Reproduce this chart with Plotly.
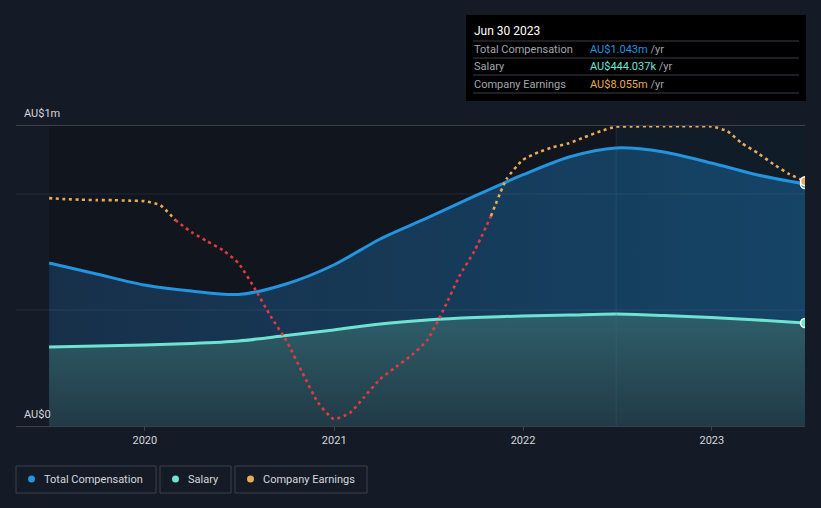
import plotly.graph_objects as go
import pandas as pd

# ---------------- data ----------------
quarter_dates = ["2019-06-30", "2019-09-30", "2019-12-31", "2020-03-31", "2020-06-30",
                 "2020-09-30", "2020-12-31", "2021-03-31", "2021-06-30", "2021-09-30",
                 "2021-12-31", "2022-03-31", "2022-06-30", "2022-09-30", "2022-12-31",
                 "2023-03-31", "2023-06-30"]
total_comp = [702.6, 655.2, 607.8, 581.9, 566.8, 612.1, 694.0, 806.0, 896.6, 991.4,
              1081.9, 1159.5, 1198.3, 1181.0, 1133.6, 1081.9, 1043.0]  # AU$k
salary = [340.5, 344.8, 349.1, 355.6, 366.4, 390.1, 413.8, 439.7, 456.9, 467.7,
          474.1, 478.4, 482.8, 476.3, 467.7, 456.9, 444.037]  # AU$k

month_dates = [d.strftime("%Y-%m-%d") for d in pd.date_range("2019-06-30", "2023-06-30", freq="ME")]
earnings = [4.25, 4.03, 3.91, 3.80, 3.80, 3.69, 3.58, 2.68, -0.67, -3.36,
            -5.37, -7.38, -10.29, -15.88, -22.15, -27.52, -34.67, -41.38, -45.19, -43.85,
            -40.27, -36.24, -33.56, -30.87, -27.52, -20.80, -13.20, -7.38, 0.22, 8.50,
            12.75, 14.54, 15.66, 16.55, 17.90, 19.24, 20.24, 20.30, 20.35, 20.36,
            20.36, 20.36, 20.30, 19.24, 16.55, 14.32, 11.86, 9.62, 8.055]  # AU$m

x_ticks = ["2020-01-01", "2021-01-01", "2022-01-01", "2023-01-01"]
x_tick_labels = ["2020", "2021", "2022", "2023"]
x_range = ["2019-04-27", "2023-06-30"]
y_range = [0, 1293]
grid_vals = [500, 1000]
highlight_start = "2022-06-30"

# ---------------- colours ----------------
BG = "#151b26"
PLOT_BG = "#10151e"
BLUE = "#2394df"
CYAN = "#6fe3d3"
ORANGE = "#e9ab55"
RED = "#e5393e"
TEXT = "#d4d7dc"
MUTED = "#a2a6ad"

fig = go.Figure()

# total compensation area
fig.add_trace(go.Scatter(
    x=quarter_dates, y=total_comp, mode="lines", line=dict(color=BLUE, width=3, shape="spline", smoothing=0.8),
    fill="tozeroy", fillgradient=dict(type="horizontal", colorscale=[[0, "#17304a"], [1, "#154466"]]),
    hoverinfo="skip", showlegend=False))
# salary area
fig.add_trace(go.Scatter(
    x=quarter_dates, y=salary, mode="lines", line=dict(color=CYAN, width=3, shape="spline", smoothing=0.8),
    fill="tozeroy", fillgradient=dict(type="vertical", colorscale=[[0, "#213a47"], [1, "#2e5f6a"]]),
    hoverinfo="skip", showlegend=False))

# earnings, split into positive / negative runs
neg = [i for i, v in enumerate(earnings) if v < 0]
s, e = neg[0], neg[-1] + 1
segments = [(0, s, ORANGE), (s, e, RED), (e, len(earnings) - 1, ORANGE)]
for a, b, col in segments:
    fig.add_trace(go.Scatter(
        x=month_dates[a:b + 1], y=earnings[a:b + 1], yaxis="y2", mode="lines",
        line=dict(color=col, width=2.6, dash="3px,3.6px", shape="spline", smoothing=0.5),
        hoverinfo="skip", showlegend=False))

# end markers
fig.add_trace(go.Scatter(x=[quarter_dates[-1]], y=[total_comp[-1]], mode="markers",
                         marker=dict(color=BLUE, size=9, line=dict(color="white", width=1.5)),
                         hoverinfo="skip", showlegend=False))
fig.add_trace(go.Scatter(x=[quarter_dates[-1]], y=[salary[-1]], mode="markers",
                         marker=dict(color=CYAN, size=9, line=dict(color="white", width=1.5)),
                         hoverinfo="skip", showlegend=False))
fig.add_trace(go.Scatter(x=[month_dates[-1]], y=[earnings[-1]], yaxis="y2", mode="markers",
                         marker=dict(color=ORANGE, size=9, line=dict(color="white", width=1.5)),
                         hoverinfo="skip", showlegend=False))

shapes = [
    dict(type="rect", xref="x", yref="paper", x0=quarter_dates[0], x1=quarter_dates[-1], y0=0, y1=1,
         fillcolor=PLOT_BG, line=dict(width=0), layer="below"),
    dict(type="rect", xref="x", yref="paper", x0=highlight_start, x1=quarter_dates[-1], y0=0, y1=1,
         fillcolor="#111c29", line=dict(width=0), layer="below"),
    dict(type="line", xref="x", yref="paper", x0=highlight_start, x1=highlight_start, y0=0, y1=1,
         line=dict(color="rgba(70,110,150,0.25)", width=1), layer="above"),
]
for g in grid_vals:
    shapes.append(dict(type="line", xref="paper", yref="y", x0=0, x1=1, y0=g, y1=g,
                       line=dict(color="rgba(160,170,185,0.13)", width=1), layer="above"))

annotations = [
    dict(text="AU$1m", xref="paper", yref="paper", x=0.008, y=1.04, xanchor="left", yanchor="middle",
         showarrow=False, font=dict(color=TEXT, size=11)),
    dict(text="AU$0", xref="paper", yref="paper", x=0.008, y=0.04, xanchor="left", yanchor="middle",
         showarrow=False, font=dict(color=TEXT, size=11)),
]

# tooltip box
def px_x(px):
    return (px - 16) / 789


def px_y(py):
    return (426 - py) / 300


shapes.append(dict(type="rect", xref="paper", yref="paper", x0=px_x(466), x1=px_x(806), y0=px_y(101), y1=px_y(15),
                   fillcolor="#000000", line=dict(width=0), layer="above"))
for sy in [41, 58, 75, 93]:
    shapes.append(dict(type="line", xref="paper", yref="paper", x0=px_x(473), x1=px_x(799), y0=px_y(sy), y1=px_y(sy),
                       line=dict(color="#3a3e45", width=1), layer="above"))
annotations.append(dict(text="Jun 30 2023", xref="paper", yref="paper", x=px_x(472), y=px_y(31),
                        xanchor="left", yanchor="middle", showarrow=False, font=dict(color="white", size=12)))
rows = [("Total Compensation", "AU$1.043m", BLUE, 49),
        ("Salary", "AU$444.037k", CYAN, 66),
        ("Company Earnings", "AU$8.055m", ORANGE, 84)]
for label, val, col, ry in rows:
    annotations.append(dict(text=label, xref="paper", yref="paper", x=px_x(472), y=px_y(ry),
                            xanchor="left", yanchor="middle", showarrow=False, font=dict(color=MUTED, size=11)))
    annotations.append(dict(text=f"<span style='color:{col}'>{val}</span> /yr", xref="paper", yref="paper",
                            x=px_x(588), y=px_y(ry), xanchor="left", yanchor="middle", showarrow=False,
                            font=dict(color=MUTED, size=11)))

# legend boxes
legend_items = [("Total Compensation", BLUE, 16, 156), ("Salary", CYAN, 160, 231), ("Company Earnings", ORANGE, 235, 367)]
for name, col, bx0, bx1 in legend_items:
    shapes.append(dict(type="rect", xref="paper", yref="paper", x0=px_x(bx0), x1=px_x(bx1), y0=px_y(493), y1=px_y(466),
                       fillcolor="rgba(0,0,0,0)", line=dict(color="#3c424b", width=1)))
    shapes.append(dict(type="circle", xref="paper", yref="paper", x0=px_x(bx0 + 12), x1=px_x(bx0 + 19),
                       y0=px_y(482.5), y1=px_y(475.5), fillcolor=col, line=dict(width=0)))
    annotations.append(dict(text=name, xref="paper", yref="paper", x=px_x(bx0 + 26), y=px_y(479.5),
                            xanchor="left", yanchor="middle", showarrow=False, font=dict(color=TEXT, size=11)))

fig.update_layout(
    width=821, height=508,
    margin=dict(l=16, r=16, t=126, b=82),
    paper_bgcolor=BG, plot_bgcolor=BG,
    font=dict(family="Roboto, Noto Sans, sans-serif", color=TEXT),
    xaxis=dict(type="date", range=x_range, tickvals=x_ticks, ticktext=x_tick_labels, showgrid=False,
               showline=True, mirror=True, linecolor="#3b4049", linewidth=1, ticks="outside", ticklen=4,
               tickcolor="#3b4049", tickfont=dict(color=TEXT, size=11), zeroline=False, fixedrange=True),
    yaxis=dict(range=y_range, showgrid=False, showticklabels=False, zeroline=False, fixedrange=True),
    yaxis2=dict(range=[-46.75, 20.4], overlaying="y", showgrid=False, showticklabels=False, zeroline=False,
                visible=False),
    shapes=shapes, annotations=annotations, showlegend=False,
)

fig.write_html("out.html", config={"displayModeBar": False},
               post_script="document.body.style.margin='0';document.body.style.background='#151b26';")
